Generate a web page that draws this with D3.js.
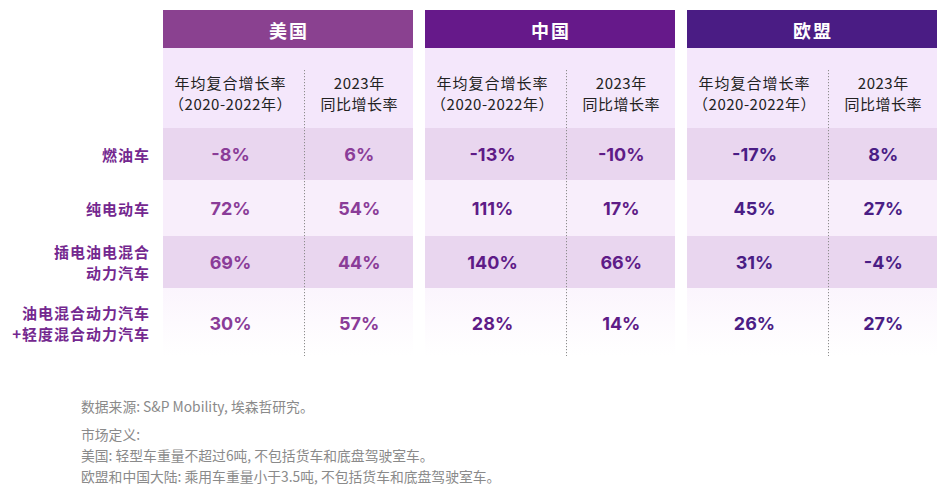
<!DOCTYPE html>
<html>
<head>
<meta charset="utf-8">
<script src="https://cdn.jsdelivr.net/npm/d3@7"></script>
<style>
  html, body { margin: 0; padding: 0; background: #fff; }
  svg { display: block; }
</style>
</head>
<body>
<svg id="chart" width="949" height="500"></svg>
<script>
// ---------------- DATA ----------------
const regions = ["美国", "中国", "欧盟"];
const categories = [
  ["燃油车"],
  ["纯电动车"],
  ["插电油电混合", "动力汽车"],
  ["油电混合动力汽车", "+轻度混合动力汽车"]
];
const colHeaders = [
  ["年均复合增长率", "（2020-2022年）"],
  ["2023年", "同比增长率"]
];
const usCagr = [-8, 72, 69, 30];
const usYoy  = [6, 54, 44, 57];
const cnCagr = [-13, 111, 140, 28];
const cnYoy  = [-10, 17, 66, 14];
const euCagr = [-17, 45, 31, 26];
const euYoy  = [8, 27, -4, 27];
const footnotes = [
  "数据来源: S&P Mobility, 埃森哲研究。",
  "市场定义:",
  "美国: 轻型车重量不超过6吨, 不包括货车和底盘驾驶室车。",
  "欧盟和中国大陆: 乘用车重量小于3.5吨, 不包括货车和底盘驾驶室车。"
];

// ---------------- LAYOUT ----------------
const regionData = [
  { name: regions[0], cols: [usCagr, usYoy], head: "#8a4190", text: "#8a3c98" },
  { name: regions[1], cols: [cnCagr, cnYoy], head: "#66198a", text: "#5e1b87" },
  { name: regions[2], cols: [euCagr, euYoy], head: "#4a1c84", text: "#4a1d85" }
];
const svg = d3.select("#chart");
const cjk = "'Noto Sans CJK SC', 'Noto Sans', sans-serif";
const numFont = "Inter, 'Noto Sans CJK SC', sans-serif";

const xGroup = d3.scaleBand().domain(regions).range([163, 937]).paddingInner(0.0458).paddingOuter(0);
const gw = xGroup.bandwidth();
const xCol = d3.scaleOrdinal().domain([0, 1]).range([0.27, 0.785]);
const divFrac = 0.566;

const catIdx = d3.range(categories.length);
const rowTop = d3.scaleOrdinal().domain(catIdx).range([128, 180, 236, 288]);
const rowH = d3.scaleOrdinal().domain(catIdx).range([52, 56, 52, 68]);
const rowFill = d3.scaleOrdinal().domain(catIdx).range(["#e9d6ef", "#f8eefb", "#e9d6ef", "url(#fade)"]);

const defs = svg.append("defs");
const grad = defs.append("linearGradient").attr("id", "fade").attr("x1", 0).attr("x2", 0).attr("y1", 0).attr("y2", 1);
grad.append("stop").attr("offset", "0%").attr("stop-color", "#fbf5fd");
grad.append("stop").attr("offset", "100%").attr("stop-color", "#ffffff");

const groups = svg.selectAll("g.region").data(regionData).join("g")
  .attr("class", "region")
  .attr("transform", d => `translate(${xGroup(d.name)},0)`);

groups.append("rect").attr("x", 0).attr("y", 10).attr("width", gw).attr("height", 38)
  .attr("fill", d => d.head);
groups.append("text").attr("x", gw / 2 + 1).attr("y", 30).attr("text-anchor", "middle")
  .attr("dominant-baseline", "central")
  .attr("fill", "#fff").attr("font-family", cjk).attr("font-weight", 700).attr("font-size", 18)
  .attr("letter-spacing", 2)
  .text(d => d.name);

groups.append("rect").attr("x", 0).attr("y", 48).attr("width", gw).attr("height", 80).attr("fill", "#f4e7fb");

groups.each(function(d) {
  const g = d3.select(this);
  g.selectAll("rect.row").data(catIdx).join("rect").attr("class", "row")
    .attr("x", 0).attr("y", i => rowTop(i)).attr("width", gw).attr("height", i => rowH(i))
    .attr("fill", i => rowFill(i));
});

groups.each(function(d) {
  const g = d3.select(this);
  colHeaders.forEach((lines, ci) => {
    lines.forEach((ln, li) => {
      g.append("text").attr("x", gw * xCol(ci)).attr("y", 82 + li * 21)
        .attr("text-anchor", "middle").attr("dominant-baseline", "central")
        .attr("fill", "#222").attr("font-family", cjk).attr("font-size", 15)
        .attr("letter-spacing", ci === 0 && li === 0 ? 1 : 0.5)
        .text(ln);
    });
  });
});

groups.append("line").attr("x1", gw * divFrac).attr("x2", gw * divFrac)
  .attr("y1", 70).attr("y2", 356)
  .attr("stroke", "#8d8d8d").attr("stroke-width", 1).attr("stroke-dasharray", "1.2,1.8");

const fmt = v => `${v}%`;
groups.each(function(d) {
  const g = d3.select(this);
  d.cols.forEach((arr, ci) => {
    g.selectAll(`text.v${ci}`).data(arr).join("text").attr("class", `v${ci}`)
      .attr("x", gw * xCol(ci))
      .attr("y", (v, i) => rowTop(i) + (i === 3 ? 35 : rowH(i) / 2))
      .attr("text-anchor", "middle").attr("dominant-baseline", "central")
      .attr("fill", d.text).attr("font-family", numFont).attr("font-weight", 700).attr("font-size", 18)
      .text(fmt);
  });
});

const labels = svg.append("g");
categories.forEach((lines, i) => {
  const cy = rowTop(i) + (i === 3 ? 35 : rowH(i) / 2);
  lines.forEach((ln, li) => {
    labels.append("text").attr("x", 150)
      .attr("y", cy + (li - (lines.length - 1) / 2) * 20.5)
      .attr("text-anchor", "end").attr("dominant-baseline", "central")
      .attr("fill", "#74288f").attr("font-family", cjk).attr("font-weight", 700).attr("font-size", 15)
      .attr("letter-spacing", 1)
      .text(ln);
  });
});

const fy = d3.scaleOrdinal().domain(d3.range(footnotes.length)).range([406, 434, 455, 476]);
svg.append("g").selectAll("text").data(footnotes).join("text")
  .attr("x", 81).attr("y", (d, i) => fy(i)).attr("dominant-baseline", "central")
  .attr("fill", "#8a8a8a").attr("font-family", cjk).attr("font-size", 13.8)
  .text(d => d);
</script>
</body>
</html>
